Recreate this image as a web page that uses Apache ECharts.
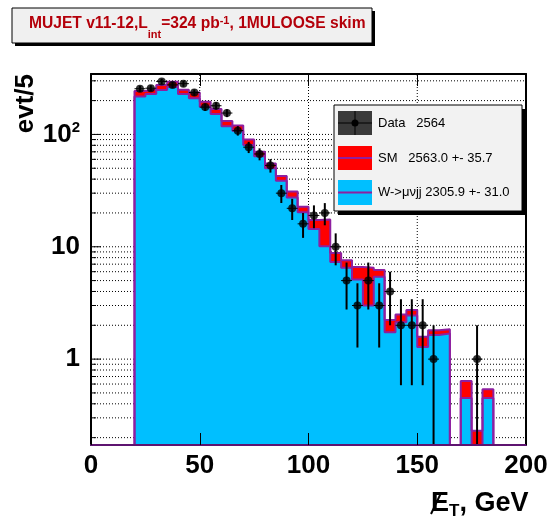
<!DOCTYPE html>
<html>
<head>
<meta charset="utf-8">
<script src="https://cdn.jsdelivr.net/npm/echarts@6/dist/echarts.min.js"></script>
<style>html,body{margin:0;padding:0;background:#fff}#c{width:555px;height:518px}</style>
</head>
<body>
<div id="c"></div>
<script>
// ---------- data ----------
const binLow = [20,25,30,35,40,45,50,55,60,65,70,75,80,85,90,95,100,105,110,115,120,125,130,135,140,145,150,155,160,165,170,175,180];
const BIN_W = 5;
const dataCounts = [255,258,296,276,283,236,175,180,155,108,77,67,53,30,22,16,19,20,10,5,3,5,3,4,2,2,2,1,0,0,0,1,0];
const smValues = [244,253,276,295,250,236,195,168,132,120,90,70,55,42.6,31,22.7,17.3,17.5,8.8,7.6,6.6,6.5,6.2,2.23,2.5,2.73,1.58,1.81,1.84,0,0.64,0.23,0.54];
const wValues  = [218,229,248,264,229,210,176,152,118,108,80.5,64,50,38.7,27.5,20.3,14.4,10.1,7.3,6.5,5.1,3.0,5.4,1.73,2.13,2.44,1.28,1.64,1.69,0,0.45,0,0.45];
const xTickLabels = ['0','50','100','150','200'];
const yMajorTicks = [1,10,100];
const yTickLabels = ['1','10','10{s|2}'];
const yMinorTicks = [0.2,0.3,0.4,0.5,0.6,0.7,0.8,0.9,2,3,4,5,6,7,8,9,20,30,40,50,60,70,80,90,200,300];
const xGridValues = [50,100,150];
const legendTexts = ['Data   2564','SM   2563.0 +- 35.7','W->\u03bc\u03bdjj 2305.9 +- 31.0'];
const titleText = 'MUJET v11-12,L{sub|int}=324 pb{sup|-1}, 1MULOOSE skim';

// ---------- style ----------
const FONT = '"Liberation Sans", Arial, Helvetica, sans-serif';
const PURPLE = '#8e1fa0';
const RED = '#ff0000';
const CYAN = '#00bfff';
const X_MIN = 0, X_MAX = 200;
const Y_MIN = 0.172, Y_MAX = 345;
const TINY = 1e-3;

// stepped histogram outline points (bin left edges, closing at the last right edge)
function steps(vals){
  const pts = [[binLow[0], TINY]];
  binLow.forEach((x0,i)=>pts.push([x0, vals[i] > 0 ? vals[i] : TINY]));
  const last = vals[vals.length-1];
  const end = binLow[binLow.length-1] + BIN_W;
  pts.push([end, last > 0 ? last : TINY]);
  pts.push([end, TINY]);
  return pts;
}
const pointData = [];
binLow.forEach((x0,i)=>{ if (dataCounts[i] > 0) pointData.push([x0 + BIN_W/2, dataCounts[i]]); });

const yGridData = yMinorTicks.map(v=>[v,0]).concat(yMajorTicks.map(v=>[v,1]));

const option = {
  animation: false,
  backgroundColor: '#fff',
  grid: {left: 91, right: 29, top: 74, bottom: 73, show: false},
  xAxis: [
    {type:'value', min:X_MIN, max:X_MAX, interval:50, position:'bottom', z:10,
     axisLine:{show:true, onZero:false, lineStyle:{color:'#5e1470', width:2}},
     axisTick:{show:true, inside:true, length:12, lineStyle:{color:'#000', width:1}},
     axisLabel:{margin:8, fontSize:26, fontWeight:'bold', fontFamily:FONT, color:'#000',
       formatter:(v)=>xTickLabels[Math.round(v/50)] || ''},
     splitLine:{show:false}},
    {type:'value', min:X_MIN, max:X_MAX, interval:50, position:'top', z:10,
     axisLine:{show:true, onZero:false, lineStyle:{color:'#000', width:2}},
     axisTick:{show:true, inside:true, length:12, lineStyle:{color:'#000', width:1}},
     axisLabel:{show:false}, splitLine:{show:false}}
  ],
  yAxis: [
    {type:'log', logBase:10, min:Y_MIN, max:Y_MAX, position:'left', z:10,
     axisLine:{show:true, onZero:false, lineStyle:{color:'#000', width:2}},
     axisTick:{show:false}, splitLine:{show:false}, minorTick:{show:false},
     axisLabel:{margin:11, fontSize:26, fontWeight:'bold', fontFamily:FONT, color:'#000',
       formatter:function(v){
         const e = Math.log10(v);
         for (let i=0;i<yMajorTicks.length;i++){ if (Math.abs(Math.log10(yMajorTicks[i]) - e) < 1e-3) return yTickLabels[i]; }
         return '';
       },
       rich:{s:{fontSize:15, fontWeight:'bold', fontFamily:FONT, color:'#000', padding:[0,0,14,0]}}}},
    {type:'log', logBase:10, min:Y_MIN, max:Y_MAX, position:'right', z:10,
     axisLine:{show:true, onZero:false, lineStyle:{color:'#000', width:2}},
     axisTick:{show:false}, splitLine:{show:false}, axisLabel:{show:false}}
  ],
  series: [
    {type:'custom', name:'ygrid', z:1, silent:true, encode:{x:1, y:0}, data:yGridData, clip:true,
     renderItem:function(params, api){
       const v = api.value(0), major = api.value(1);
       const a = api.coord([X_MIN, v]), b = api.coord([X_MAX, v]);
       const len = major ? 10 : 5;
       return {type:'group', children:[
         {type:'line', shape:{x1:a[0], y1:a[1], x2:b[0], y2:b[1]}, style:{stroke:'#000', lineWidth:1, lineDash:[1,2]}},
         {type:'line', shape:{x1:a[0], y1:a[1], x2:a[0]+len, y2:a[1]}, style:{stroke:'#000', lineWidth:1}}
       ]};
     }},
    {type:'custom', name:'xgrid', z:1, silent:true, encode:{x:0, y:1}, data:xGridValues.map(v=>[v,1]),
     renderItem:function(params, api){
       const v = api.value(0);
       const a = api.coord([v, Y_MIN]), b = api.coord([v, Y_MAX]);
       return {type:'line', shape:{x1:a[0], y1:a[1], x2:b[0], y2:b[1]}, style:{stroke:'#000', lineWidth:1, lineDash:[1,2]}};
     }},
    {type:'line', name:'SM', z:2, step:'end', symbol:'none', clip:true, data:steps(smValues),
     lineStyle:{width:0, opacity:0}, areaStyle:{color:RED, opacity:1, origin:'start'}},
    {type:'line', name:'W', z:3, step:'end', symbol:'none', clip:true, data:steps(wValues),
     lineStyle:{width:0, opacity:0}, areaStyle:{color:CYAN, opacity:1, origin:'start'}},
    {type:'line', name:'SMline', z:4, step:'end', symbol:'none', clip:true, data:steps(smValues),
     lineStyle:{color:PURPLE, width:2}},
    {type:'line', name:'Wline', z:4, step:'end', symbol:'none', clip:true, data:steps(wValues),
     lineStyle:{color:PURPLE, width:2}},
    {type:'custom', name:'err', z:5, encode:{x:0, y:1}, data:pointData, clip:true,
     renderItem:function(params, api){
       const x = api.value(0), v = api.value(1), e = Math.sqrt(v);
       const lo = api.coord([x, Math.max(v - e, Y_MIN)]);
       const hi = api.coord([x, v + e]);
       const l = api.coord([x - BIN_W/2, v]), r = api.coord([x + BIN_W/2, v]);
       return {type:'group', children:[
         {type:'line', shape:{x1:lo[0], y1:lo[1], x2:hi[0], y2:hi[1]}, style:{stroke:'#000', lineWidth:2}},
         {type:'line', shape:{x1:l[0], y1:l[1], x2:r[0], y2:r[1]}, style:{stroke:'#000', lineWidth:1}}
       ]};
     }},
    {type:'scatter', name:'Data', z:6, symbol:'circle', symbolSize:8, data:pointData,
     itemStyle:{color:'#000'}}
  ],
  graphic: [
    // title box
    {type:'rect', shape:{x:15, y:11, width:360, height:35}, style:{fill:'#000'}, z:20},
    {type:'rect', shape:{x:12, y:8, width:360, height:35}, style:{fill:'#f0f0f0', stroke:'#000', lineWidth:1}, z:21},
    {type:'text', x:29, y:24, z:22, style:{text:titleText, fill:'#b4000a', font:'bold 15.6px ' + FONT,
      verticalAlign:'middle', align:'left',
      rich:{sub:{fontSize:11, fontWeight:'bold', fontFamily:FONT, fill:'#b4000a', padding:[22,0,0,0]},
            sup:{fontSize:11, fontWeight:'bold', fontFamily:FONT, fill:'#b4000a', padding:[0,0,6,0]}}}},
    // legend box
    {type:'rect', shape:{x:338, y:109, width:188, height:106}, style:{fill:'#000'}, z:20},
    {type:'rect', shape:{x:334, y:105, width:188, height:106}, style:{fill:'#f2f2f2', stroke:'#000', lineWidth:1}, z:21},
    {type:'rect', shape:{x:338, y:111, width:34, height:24}, style:{fill:'#3a3a3a'}, z:22},
    {type:'line', shape:{x1:338, y1:123, x2:372, y2:123}, style:{stroke:'#000', lineWidth:1}, z:23},
    {type:'line', shape:{x1:355, y1:111, x2:355, y2:135}, style:{stroke:'#000', lineWidth:1}, z:23},
    {type:'circle', shape:{cx:355, cy:123, r:3.5}, style:{fill:'#000'}, z:24},
    {type:'rect', shape:{x:338, y:146, width:34, height:24}, style:{fill:RED}, z:22},
    {type:'line', shape:{x1:338, y1:158, x2:372, y2:158}, style:{stroke:PURPLE, lineWidth:2}, z:23},
    {type:'rect', shape:{x:338, y:180, width:34, height:25}, style:{fill:CYAN}, z:22},
    {type:'line', shape:{x1:338, y1:192.5, x2:372, y2:192.5}, style:{stroke:PURPLE, lineWidth:2}, z:23},
    {type:'text', x:378, y:123, z:24, style:{text:legendTexts[0], font:'13px ' + FONT, fill:'#000', verticalAlign:'middle'}},
    {type:'text', x:378, y:158, z:24, style:{text:legendTexts[1], font:'13px ' + FONT, fill:'#000', verticalAlign:'middle'}},
    {type:'text', x:378, y:192, z:24, style:{text:legendTexts[2], font:'13px ' + FONT, fill:'#000', verticalAlign:'middle'}},
    // axis titles
    {type:'text', x:26, y:74, rotation:Math.PI/2, z:20, style:{text:'evt/5', font:'bold 26px ' + FONT, fill:'#000', align:'right', verticalAlign:'middle'}},
    {type:'text', x:431, y:504, z:20, style:{text:'{e|E}{t|T}{g|, GeV}', fill:'#000', verticalAlign:'middle', align:'left',
      rich:{e:{fontSize:27, fontWeight:'bold', fontFamily:FONT, fill:'#000'},
            t:{fontSize:17, fontWeight:'bold', fontFamily:FONT, fill:'#000', padding:[14,0,0,0]},
            g:{fontSize:27, fontWeight:'bold', fontFamily:FONT, fill:'#000'}}}},
    {type:'line', shape:{x1:431, y1:514, x2:441, y2:493}, style:{stroke:'#000', lineWidth:2}, z:21}
  ]
};
const chart = echarts.init(document.getElementById('c'), null, {renderer:'canvas', width:555, height:518});
chart.setOption(option);
</script>
</body>
</html>
